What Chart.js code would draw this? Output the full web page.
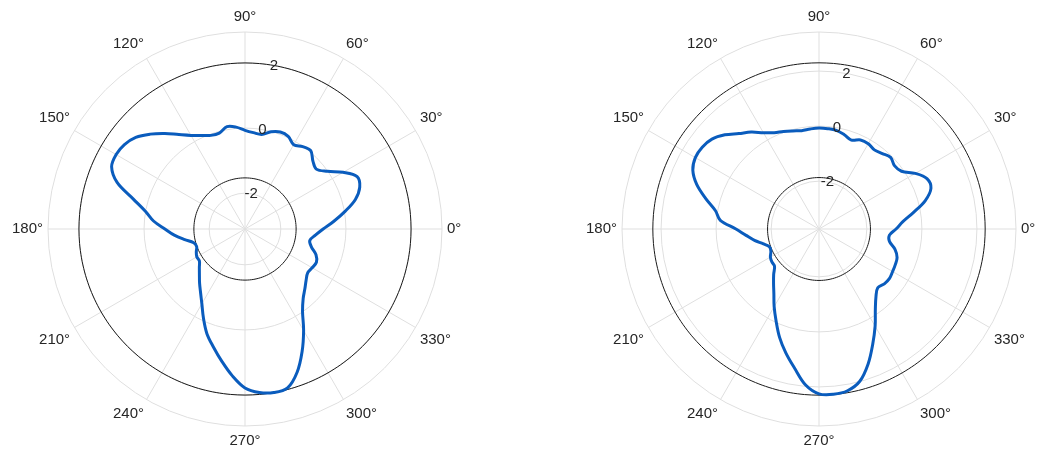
<!DOCTYPE html>
<html>
<head>
<meta charset="utf-8">
<script src="https://cdn.jsdelivr.net/npm/chart.js@4.4.1/dist/chart.umd.min.js"></script>
<style>
  html, body { margin: 0; padding: 0; background: #ffffff; }
  #wrap { position: relative; width: 1037px; height: 453px; overflow: hidden; background: #ffffff; }
  canvas { position: absolute; top: 0; }
</style>
</head>
<body>
<div id="wrap">
  <canvas id="leftPolar" width="518" height="453" style="left:0px"></canvas>
  <canvas id="rightPolar" width="519" height="453" style="left:518px"></canvas>
</div>
<script>
// ---- data (MATLAB-style polar: angle in degrees, counter-clockwise from east) ----
const thetaDeg = [0, 5, 10, 15, 20, 25, 30, 35, 40, 45, 50, 55, 60, 65, 70, 75, 80, 85,
  90, 95, 100, 105, 110, 115, 120, 125, 130, 135, 140, 145, 150, 155, 160, 165, 170, 175,
  180, 185, 190, 195, 200, 205, 210, 215, 220, 225, 230, 235, 240, 245, 250, 255, 260, 265,
  270, 275, 280, 285, 290, 295, 300, 305, 310, 315, 320, 325, 330, 335, 340, 345, 350, 355];

const leftR = [-0.70, -0.36, 0.02, 0.41, 0.65, 0.70, 0.38, -0.01, -0.24, -0.15, 0.04, -0.01,
  -0.11, 0.04, 0.07, -0.01, -0.15, -0.13, -0.07, 0.04, 0.09, -0.05, -0.04, 0.07,
  0.22, 0.44, 0.73, 1.02, 1.28, 1.42, 1.47, 1.42, 1.08, 0.45, 0.00, -0.28,
  -0.64, -0.92, -1.22, -1.47, -1.52, -1.45, -1.39, -1.39, -1.27, -1.12, -0.93, -0.72,
  -0.45, -0.08, 0.32, 0.65, 1.02, 1.42, 1.78, 1.94, 2.00, 1.95, 1.58, 1.05,
  0.50, -0.02, -0.32, -0.50, -0.65, -0.75, -0.72, -0.68, -0.78, -0.99, -1.08, -0.93];

const rightR = [-0.94, -0.68, -0.25, 0.26, 0.59, 0.59, 0.30, -0.08, -0.16, -0.06, -0.16, -0.23,
  -0.16, -0.17, -0.30, -0.19, -0.10, -0.08, -0.07, -0.09, -0.11, -0.05, 0.03, 0.12,
  0.30, 0.56, 0.79, 1.10, 1.34, 1.44, 1.45, 1.32, 0.99, 0.52, 0.08, -0.14,
  -0.72, -1.08, -1.36, -1.65, -1.83, -1.81, -1.70, -1.65, -1.63, -1.41, -1.17, -0.88,
  -0.48, -0.05, 0.45, 0.92, 1.39, 1.94, 2.25, 2.29, 2.23, 1.99, 1.48, 0.88,
  0.34, -0.17, -0.52, -0.72, -0.64, -0.61, -0.65, -0.68, -0.72, -0.88, -1.14, -1.17];

// reference circles (black): inner and outer radius values
const leftRefCircles = [-1.53, 2.00];
const rightRefCircles = [-1.87, 2.30];

// radial axis limits
const leftRange = [-3.1, 2.95];
const rightRange = [-3.74, 3.42];

const radialTicks = [-2, 0, 2];
const angleTicks = [0, 30, 60, 90, 120, 150, 180, 210, 240, 270, 300, 330];
const radialTickAngle = 80;

// ---- helpers ----
const N = thetaDeg.length;
// Chart.js radar goes clockwise; with startAngle 90 index 0 is east.
const chartIndexOf = (deg) => (N - thetaDeg.indexOf(deg)) % N;
const toChartOrder = (arr) => thetaDeg.map((_, i) => arr[(N - i) % N]);
const chartLabels = toChartOrder(thetaDeg);

const FONT = '"Liberation Sans", Arial, Helvetica, sans-serif';
const TEXT_COLOR = '#262626';
const GRID_COLOR = '#dfdfdf';

const polarText = {
  id: 'polarText',
  afterDraw(chart) {
    const s = chart.scales.r;
    const ctx = chart.ctx;
    ctx.save();
    ctx.fillStyle = TEXT_COLOR;
    ctx.textAlign = 'center';
    ctx.textBaseline = 'middle';
    ctx.font = '15px ' + FONT;
    angleTicks.forEach((a) => {
      const p = s.getPointPosition(chartIndexOf(a), s.drawingArea + 5);
      const txt = a + '\u00B0';
      const w = ctx.measureText(txt).width;
      const c = Math.cos(a * Math.PI / 180);
      const sn = Math.sin(a * Math.PI / 180);
      const ox = Math.abs(c) < 0.01 ? 0 : Math.sign(c) * w / 2;
      const oy = Math.abs(sn) < 0.01 ? 0 : -Math.sign(sn) * 10;
      ctx.fillText(txt, p.x + ox, p.y + oy);
    });
    ctx.font = '15px ' + FONT;
    radialTicks.forEach((v) => {
      const p = s.getPointPosition(chartIndexOf(radialTickAngle), s.getDistanceFromCenterForValue(v));
      ctx.fillText(String(v), p.x, p.y);
    });
    ctx.restore();
  }
};

function makePolar(canvasId, rValues, refCircles, range, padding) {
  const datasets = [{
    data: toChartOrder(rValues),
    borderColor: '#0a5cbd',
    backgroundColor: 'rgba(0,0,0,0)',
    borderWidth: 3,
    pointRadius: 0,
    fill: false,
    tension: 0.35
  }];
  refCircles.forEach((rv) => {
    datasets.push({
      data: thetaDeg.map(() => rv),
      borderColor: '#1a1a1a',
      backgroundColor: 'rgba(0,0,0,0)',
      borderWidth: 1,
      pointRadius: 0,
      fill: false,
      tension: 0.3
    });
  });
  return new Chart(document.getElementById(canvasId), {
    type: 'radar',
    data: { labels: chartLabels, datasets },
    options: {
      responsive: false,
      animation: false,
      devicePixelRatio: 1,
      layout: { padding },
      plugins: { legend: { display: false }, tooltip: { enabled: false } },
      scales: {
        r: {
          min: range[0],
          max: range[1],
          startAngle: 90,
          afterBuildTicks: (axis) => {
            axis.ticks = [range[0], ...radialTicks, range[1]].map((v) => ({ value: v }));
          },
          ticks: { display: false },
          pointLabels: { display: false },
          grid: { color: GRID_COLOR, lineWidth: 1, circular: true },
          angleLines: {
            display: true,
            color: GRID_COLOR,
            lineWidth: (ctx) => (chartLabels[ctx.index] % 30 === 0 ? 1 : 0)
          }
        }
      }
    },
    plugins: [polarText]
  });
}

makePolar('leftPolar', leftR, leftRefCircles, leftRange, { left: 45, right: 73, top: 32, bottom: 26 });
makePolar('rightPolar', rightR, rightRefCircles, rightRange, { left: 101, right: 18, top: 32, bottom: 26 });
</script>
</body>
</html>
